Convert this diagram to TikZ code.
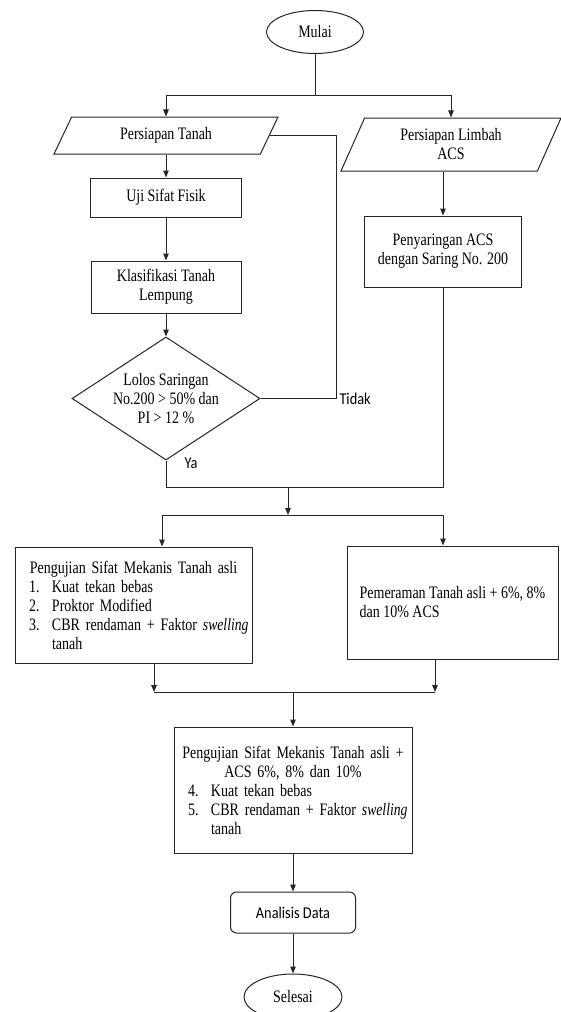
\documentclass[tikz,border=0pt]{standalone}
\usepackage{fontspec}
\setmainfont{Liberation Serif}[FakeStretch=0.8,
    ItalicFont={Liberation Serif Italic}, ItalicFeatures={FakeStretch=0.78}]
\newfontfamily\calibfont{Carlito}[FakeStretch=0.87]
\usetikzlibrary{shapes.geometric,arrows.meta}

\colorlet{garis}{black!85}
% nomor butir dengan indentasi gantung
\newcommand\butir[2]{\hspace*{12pt}\makebox[23pt][l]{#1}\mbox{#2}}

\begin{document}
\begin{tikzpicture}[x=1pt, y=-1pt, line width=1pt,
    tulisan/.style={font=\fontsize{17.5}{19}\selectfont},
    kotak/.style={tulisan, draw=garis, inner sep=0pt, align=center},
    terminal/.style={kotak, ellipse},
    masukan/.style={kotak, trapezium, trapezium stretches body},
    keputusan/.style={kotak, diamond, aspect=1.53},
    keterangan/.style={font=\calibfont\fontsize{16.5}{19}\selectfont, anchor=west, inner sep=0pt},
    alur/.style={draw=garis},
    panah/.style={draw=garis, -{Triangle[length=7pt,width=5.5pt]}}]

    % --- BATAS GAMBAR ---
    \path[use as bounding box, fill=white] (0,0) rectangle (561,1012);

    % --- MULAI ---
    \node[terminal, minimum width=97pt, minimum height=43pt] (mulai) at (315,32) {Mulai};
    \coordinate (cabang) at (315,95);

    % --- KOLOM KIRI: TANAH ---
    \node[masukan, trapezium left angle=42, trapezium right angle=138,
          minimum width=224pt, minimum height=37pt] (tanah) at (166,135.5) {Persiapan Tanah};
    \node[kotak, minimum width=151pt, minimum height=39pt] (fisik) at (166,197.5) {Uji Sifat Fisik};
    \node[kotak, minimum width=150pt, minimum height=52pt] (klasifikasi) at (166,287) {Klasifikasi Tanah\\Lempung};
    \node[keputusan, minimum width=188pt, minimum height=123pt] (lolos) at (166,398.5)
        {Lolos Saringan\\No.200 > 50\% dan\\PI > 12 \%};
    \coordinate (tidak) at (336,398.5);
    \node[keterangan] (tdk) at (339,398.5) {Tidak};
    \node[keterangan] (ya) at (184,463) {Ya};

    % --- KOLOM KANAN: LIMBAH ACS ---
    \node[masukan, trapezium left angle=53, trapezium right angle=127,
          minimum width=220pt, minimum height=53pt] (limbah) at (451,144.5) {Persiapan Limbah\\ACS};
    \node[kotak, minimum width=157pt, minimum height=71pt] (saring) at (443,251.5)
        {Penyaringan ACS\\dengan Saring No. 200};

    % --- PENGUJIAN ---
    \coordinate (gabung) at (288,487);
    \coordinate (bagi) at (288,515);
    \coordinate (bagikiri) at (162,515);
    \coordinate (bagikanan) at (443,515);

    \node[kotak, align=left, text width=233pt, minimum width=237pt, minimum height=116pt] (mekanis) at (133.5,605) {%
        \makebox[\hsize][c]{Pengujian Sifat Mekanis Tanah asli}\\
        \butir{1.}{Kuat tekan bebas}\\
        \butir{2.}{Proktor Modified}\\
        \butir{3.}{CBR rendaman + Faktor \textit{swelling}}\\
        \butir{}{tanah}};
    \node[kotak, align=left, minimum width=211pt, minimum height=113pt] (peram) at (452.5,602.5)
        {Pemeraman Tanah asli + 6\%, 8\%\\dan 10\% ACS};

    \coordinate (kumpulkiri) at (154,692);
    \coordinate (kumpulkanan) at (435,692);
    \coordinate (kumpul) at (293,692);

    \node[kotak, align=left, text width=234pt, minimum width=238pt, minimum height=126pt] (gabungan) at (293,790) {%
        \makebox[\hsize][c]{Pengujian Sifat Mekanis Tanah asli +}\\
        \makebox[\hsize][c]{ACS 6\%, 8\% dan 10\%}\\
        \butir{4.}{Kuat tekan bebas}\\
        \butir{5.}{CBR rendaman + Faktor \textit{swelling}}\\
        \butir{}{tanah}};

    % --- AKHIR ---
    \node[kotak, rounded corners=6pt, font=\calibfont\fontsize{16.5}{19}\selectfont,
          minimum width=125pt, minimum height=41pt] (analisis) at (293,912.5) {Analisis Data};
    \node[terminal, minimum width=98pt, minimum height=46pt] (selesai) at (293,997) {Selesai};

    % --- ALUR ---
    \draw[alur] (mulai) -- (cabang);
    \draw[panah] (cabang) -| (tanah);
    \draw[panah] (cabang) -| (limbah);
    \draw[panah] (tanah) -- (fisik);
    \draw[panah] (fisik) -- (klasifikasi);
    \draw[panah] (klasifikasi) -- (lolos);
    \draw[alur] (lolos) -- (tidak) |- (tanah);
    \draw[panah] (limbah.south -| saring) -- (saring);
    \draw[alur] (lolos) |- (gabung);
    \draw[alur] (saring) |- (gabung);
    \draw[panah] (gabung) -- (bagi);
    \draw[alur] (bagikiri) -- (bagikanan);
    \draw[panah] (bagikiri) -- (bagikiri |- mekanis.north);
    \draw[panah] (bagikanan) -- (bagikanan |- peram.north);
    \draw[panah] (mekanis.south -| kumpulkiri) -- (kumpulkiri);
    \draw[panah] (peram.south -| kumpulkanan) -- (kumpulkanan);
    \draw[alur] (kumpulkiri) -- (kumpulkanan);
    \draw[panah] (kumpul) -- (gabungan);
    \draw[panah] (gabungan) -- (analisis);
    \draw[panah] (analisis) -- (selesai);

\end{tikzpicture}
\end{document}
